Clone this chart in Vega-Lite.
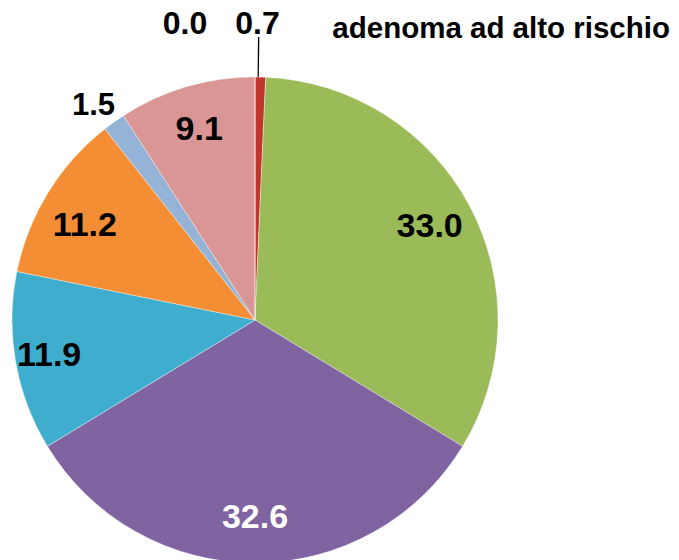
{
  "$schema": "https://vega.github.io/schema/vega-lite/v6.json",
  "width": 510,
  "height": 640,
  "autosize": "none",
  "padding": {"left": 0, "top": 0, "right": 169, "bottom": 0},
  "background": "white",
  "title": {
    "text": "adenoma ad alto rischio",
    "orient": "top",
    "anchor": "end",
    "frame": "group",
    "offset": -67,
    "dx": 160,
    "baseline": "alphabetic",
    "font": "Liberation Sans",
    "fontSize": 29.5,
    "fontWeight": "bold",
    "color": "#000000"
  },
  "layer": [
    {
      "data": {"name": "main", "values": [
        {"k": "c1", "value": 0.7, "label": "0.7"},
        {"k": "c2", "value": 33.0, "label": "33.0"},
        {"k": "c3", "value": 32.6, "label": "32.6"},
        {"k": "c4", "value": 11.9, "label": "11.9"},
        {"k": "c5", "value": 11.2, "label": "11.2"},
        {"k": "c6", "value": 1.5, "label": "1.5"},
        {"k": "c7", "value": 9.1, "label": "9.1"},
        {"k": "c8", "value": 0.0, "label": "0.0"}
      ]},
      "encoding": {
        "theta": {"field": "value", "type": "quantitative", "stack": true},
        "order": {"field": "k", "type": "nominal", "sort": "ascending"}
      },
      "layer": [
        {
          "mark": {"type": "arc", "outerRadius": 243, "stroke": "#ffffff", "strokeWidth": 0.6, "strokeOpacity": 0.6},
          "encoding": {
            "color": {
              "field": "k",
              "type": "nominal",
              "legend": null,
              "scale": {
                "domain": ["c1", "c2", "c3", "c4", "c5", "c6", "c7", "c8"],
                "range": ["#C0362F", "#9BBB59", "#8064A2", "#3FADCD", "#F38E35", "#95B3D7", "#D99694", "#666666"]
              }
            }
          }
        },
        {
          "mark": {"type": "text", "radius": 198, "font": "Liberation Sans", "fontSize": 34, "fontWeight": "bold"},
          "encoding": {
            "text": {
              "condition": {"test": "indexof(['c2','c3','c7'], datum.k) >= 0", "field": "label"},
              "value": ""
            },
            "color": {
              "condition": {"test": "datum.k === 'c3'", "value": "#ffffff"},
              "value": "#000000"
            }
          }
        },
        {
          "mark": {"type": "text", "radius": 209, "font": "Liberation Sans", "fontSize": 34, "fontWeight": "bold", "color": "#000000"},
          "encoding": {
            "text": {
              "condition": {"test": "datum.k === 'c4'", "field": "label"},
              "value": ""
            }
          }
        },
        {
          "mark": {"type": "text", "radius": 200, "dy": 11, "font": "Liberation Sans", "fontSize": 34, "fontWeight": "bold", "color": "#000000"},
          "encoding": {
            "text": {
              "condition": {"test": "datum.k === 'c5'", "field": "label"},
              "value": ""
            }
          }
        },
        {
          "mark": {"type": "text", "radius": 268, "dx": -6, "dy": 4, "font": "Liberation Sans", "fontSize": 31, "fontWeight": "bold", "color": "#000000"},
          "encoding": {
            "text": {
              "condition": {"test": "datum.k === 'c6'", "field": "label"},
              "value": ""
            }
          }
        },
        {
          "mark": {"type": "text", "radius": 296, "dx": -4, "font": "Liberation Sans", "fontSize": 32, "fontWeight": "bold", "color": "#000000"},
          "encoding": {
            "text": {
              "condition": {"test": "datum.k === 'c1'", "field": "label"},
              "value": ""
            }
          }
        },
        {
          "mark": {"type": "text", "radius": 296, "dx": -70, "font": "Liberation Sans", "fontSize": 32, "fontWeight": "bold", "color": "#000000"},
          "encoding": {
            "text": {
              "condition": {"test": "datum.k === 'c8'", "field": "label"},
              "value": ""
            }
          }
        }
      ]
    },
    {
      "data": {"values": [{"leader": "0.7"}]},
      "mark": {"type": "arc", "innerRadius": 243, "outerRadius": 283, "color": "#000000"},
      "encoding": {
        "theta": {"value": 0.0105},
        "theta2": {"value": 0.0155}
      }
    }
  ]
}
